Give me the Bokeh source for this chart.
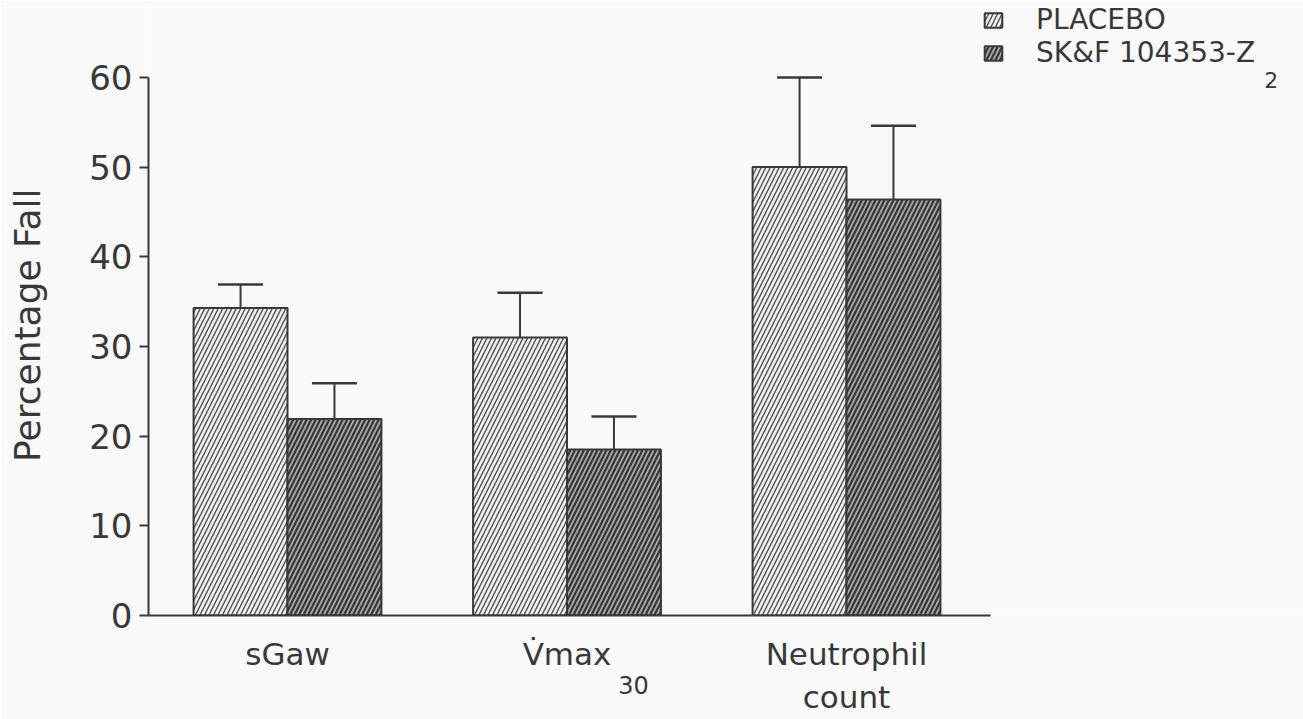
from bokeh.plotting import figure
from bokeh.models import (Range1d, Whisker, ColumnDataSource, Legend, LegendItem,
                          Label, FixedTicker, TeeHead, LinearAxis)
from bokeh.embed import file_html
from bokeh.resources import INLINE

# ---- data ----
categories = ["sGaw", "V\u0307max", "Neutrophil\ncount"]
cat_subscripts = ["", "30", ""]
series = ["PLACEBO", "SK&F 104353-Z"]
series_subscripts = ["", "2"]
placebo = [34.3, 31.0, 50.0]
placebo_sem = [2.6, 5.0, 10.0]
skf = [21.9, 18.5, 46.4]
skf_sem = [4.0, 3.7, 8.2]
y_ticks = [0, 10, 20, 30, 40, 50, 60]

FONT = "DejaVu Sans"
INK = "#383838"
BG = "#f9f9f9"

W, H = 1303, 719
xc = [i + 1 for i in range(len(categories))]
off = 0.168
bw = 0.336
src = ColumnDataSource(dict(
    x_pl=[x - off for x in xc], x_sk=[x + off for x in xc],
    pl=placebo, sk=skf,
    pl_up=[v + e for v, e in zip(placebo, placebo_sem)],
    sk_up=[v + e for v, e in zip(skf, skf_sem)],
))

x0, x_axis_end = 0.5027, 3.515
p = figure(width=W, height=H, x_range=Range1d(x0, 4.635), y_range=Range1d(0, 68.58),
           output_backend="svg", toolbar_location=None,
           min_border_left=148, min_border_right=0, min_border_top=0, min_border_bottom=104,
           background_fill_color=BG, border_fill_color=BG)
p.outline_line_color = None
p.xgrid.visible = False
p.ygrid.visible = False

r1 = p.vbar(x="x_pl", top="pl", bottom=0, width=bw, source=src,
            fill_color="#f0f0f0", line_color=INK, line_width=2,
            hatch_pattern="/", hatch_color="#505050", hatch_scale=9, hatch_weight=1.4)
r2 = p.vbar(x="x_sk", top="sk", bottom=0, width=bw, source=src,
            fill_color="#a9a9a9", line_color=INK, line_width=2,
            hatch_pattern="/", hatch_color="#363636", hatch_scale=9, hatch_weight=2.2)

for base, lo, up in (("x_pl", "pl", "pl_up"), ("x_sk", "sk", "sk_up")):
    w = Whisker(source=src, base=base, lower=lo, upper=up, dimension="height",
                line_color=INK, line_width=2, lower_head=None,
                upper_head=TeeHead(size=45, line_color=INK, line_width=2.5), level="overlay")
    p.add_layout(w)

# y axis
ya = p.yaxis[0]
ya.ticker = FixedTicker(ticks=y_ticks)
ya.bounds = (0, 60)
ya.axis_line_width = 2
ya.axis_line_color = INK
ya.major_tick_line_color = INK
ya.major_tick_line_width = 2
ya.major_tick_out = 9
ya.major_tick_in = 0
ya.minor_tick_line_color = None
ya.major_label_text_font = FONT
ya.major_label_text_font_size = "34px"
ya.major_label_text_color = INK
ya.major_label_standoff = 7
ya.axis_label = "Percentage Fall" + "\u00a0" * 3
ya.axis_label_text_font = FONT
ya.axis_label_text_font_size = "36px"
ya.axis_label_text_font_style = "normal"
ya.axis_label_text_color = INK
ya.axis_label_standoff = 38

# x axis with category labels
xa = p.xaxis[0]
xa.ticker = FixedTicker(ticks=xc)
xa.major_label_overrides = {x: c for x, c in zip(xc, categories)}
xa.bounds = (x0, x_axis_end)
xa.axis_line_width = 2
xa.axis_line_color = INK
xa.major_tick_line_color = None
xa.major_tick_out = 0
xa.major_tick_in = 0
xa.minor_tick_line_color = None
xa.major_label_text_font = FONT
xa.major_label_text_font_size = "31px"
xa.major_label_text_color = INK
xa.major_label_standoff = 20

# subscript row ("30" of Vmax30)
sub_x = [2.238]
xb = LinearAxis(ticker=FixedTicker(ticks=sub_x),
                major_label_overrides={sub_x[0]: cat_subscripts[1]},
                axis_line_color=None, major_tick_line_color=None, minor_tick_line_color=None,
                major_tick_out=0, major_tick_in=0,
                major_label_text_font=FONT, major_label_text_font_size="24px",
                major_label_text_color=INK, major_label_standoff=-42)
p.add_layout(xb, "below")

legend = Legend(items=[LegendItem(label=series[0], renderers=[r1]),
                       LegendItem(label=series[1], renderers=[r2])],
                location=(834, 546), glyph_width=22, glyph_height=18,
                label_text_font=FONT, label_text_font_size="28px", label_text_color=INK,
                spacing=0, padding=0, margin=0, border_line_color=None,
                background_fill_alpha=0, label_standoff=32)
p.add_layout(legend)
p.add_layout(Label(x=4.52, y=(615 - 80) / 8.967, text=series_subscripts[1], text_font=FONT,
                   text_font_size="22px", text_color=INK, text_align="center",
                   text_baseline="middle"))

open("out.html", "w").write(file_html(p, INLINE))
